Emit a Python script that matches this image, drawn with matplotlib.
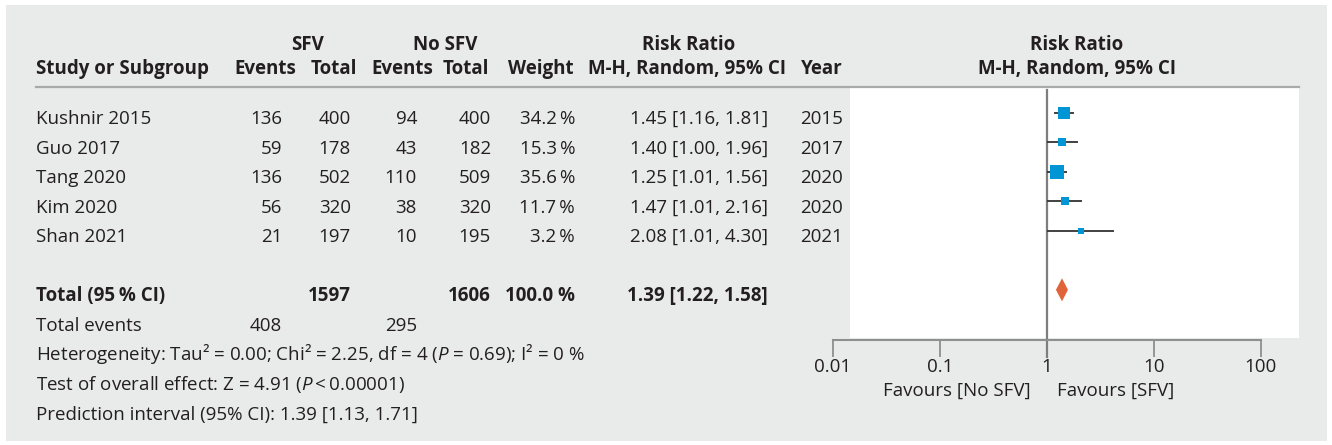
import matplotlib
matplotlib.use("Agg")
import matplotlib.pyplot as plt
from matplotlib.patches import Rectangle, Polygon
from matplotlib.lines import Line2D
import numpy as np

# ---------------- data ----------------
studies = ["Kushnir 2015", "Guo 2017", "Tang 2020", "Kim 2020", "Shan 2021"]
sfv_events = [136, 59, 136, 56, 21]
sfv_total = [400, 178, 502, 320, 197]
nosfv_events = [94, 43, 110, 38, 10]
nosfv_total = [400, 182, 509, 320, 195]
weights = [34.2, 15.3, 35.6, 11.7, 3.2]
rr = [1.45, 1.40, 1.25, 1.47, 2.08]
rr_lo = [1.16, 1.00, 1.01, 1.01, 1.01]
rr_hi = [1.81, 1.96, 1.56, 2.16, 4.30]
years = [2015, 2017, 2020, 2020, 2021]

total_sfv = 1597
total_nosfv = 1606
total_weight = "100.0 %"
pooled = 1.39
pooled_lo = 1.22
pooled_hi = 1.58
events_sfv = 408
events_nosfv = 295
x_ticks = [0.01, 0.1, 1, 10, 100]
x_ticklabels = ["0.01", "0.1", "1", "10", "100"]

# ---------------- style ----------------
W, H = 1332, 445
FONT = "Open Sans"
FS = 13.5
TXT = "#231f20"
BG = "#e9eaea"
plt.rcParams["font.family"] = [FONT, "DejaVu Sans"]
plt.rcParams["mathtext.fontset"] = "custom"
plt.rcParams["mathtext.rm"] = FONT
plt.rcParams["mathtext.it"] = FONT + ":italic"
plt.rcParams["mathtext.bf"] = FONT + ":bold"

fig = plt.figure(figsize=(W / 100, H / 100), dpi=100)
fig.patch.set_facecolor("white")


def fx(x):
    return x / W


def fy(y):
    return 1 - y / H


def put(x, y, s, ha="left", bold=False, fs=FS, color=TXT):
    fig.text(fx(x), fy(y), s, ha=ha, va="baseline", fontsize=fs,
             fontweight="bold" if bold else "normal", color=color, zorder=5)


# background panel
fig.patches.append(Rectangle((fx(6), fy(441)), fx(1327) - fx(6), fy(5) - fy(441),
                             transform=fig.transFigure, facecolor=BG, edgecolor="none", zorder=0))
# white plot area
fig.patches.append(Rectangle((fx(850), fy(337.5)), fx(1299) - fx(850), fy(88) - fy(337.5),
                             transform=fig.transFigure, facecolor="white", edgecolor="none", zorder=0.5))
# header rule
fig.add_artist(Line2D([fx(36), fx(1299)], [fy(87), fy(87)], transform=fig.transFigure,
                      color="#a9a9a9", lw=1.6, zorder=1))

# row geometry
ROW0 = 112.5
STEP = 29.55
BASE = 11.5


def row_y(i):
    return ROW0 + i * STEP


# header
put(308, 50, "SFV", ha="center", bold=True)
put(445, 50, "No SFV", ha="center", bold=True)
put(689, 50, "Risk Ratio", ha="center", bold=True)
put(1077, 50, "Risk Ratio", ha="center", bold=True)
put(36, 74, "Study or Subgroup", bold=True)
put(265, 74, "Events", ha="center", bold=True)
put(334, 74, "Total", ha="center", bold=True)
put(402, 74, "Events", ha="center", bold=True)
put(466, 74, "Total", ha="center", bold=True)
put(541, 74, "Weight", ha="center", bold=True)
put(687, 74, "M-H, Random, 95% CI", ha="center", bold=True)
put(822, 74, "Year", ha="center", bold=True)
put(1077, 74, "M-H, Random, 95% CI", ha="center", bold=True)

# study rows
for i, name in enumerate(studies):
    y = row_y(i) + BASE
    put(36, y, name)
    put(282, y, str(sfv_events[i]), ha="right")
    put(351, y, str(sfv_total[i]), ha="right")
    put(417, y, str(nosfv_events[i]), ha="right")
    put(491, y, str(nosfv_total[i]), ha="right")
    put(575, y, f"{weights[i]:.1f}\u2009%", ha="right")
    put(768, y, f"{rr[i]:.2f} [{rr_lo[i]:.2f}, {rr_hi[i]:.2f}]", ha="right")
    put(843, y, str(years[i]), ha="right")

# totals
yt = row_y(6) + BASE
put(36, yt, "Total (95\u2009% CI)", bold=True)
put(351, yt, str(total_sfv), ha="right", bold=True)
put(491, yt, str(total_nosfv), ha="right", bold=True)
put(575, yt, total_weight, ha="right", bold=True)
put(768, yt, f"{pooled:.2f} [{pooled_lo:.2f}, {pooled_hi:.2f}]", ha="right", bold=True)

ye = row_y(7) + BASE
put(36, ye, "Total events")
put(282, ye, str(events_sfv), ha="right")
put(417, ye, str(events_nosfv), ha="right")
put(36, row_y(8) + BASE,
    "Heterogeneity: Tau\u00b2 = 0.00; Chi\u00b2 = 2.25, df = 4 ($\\mathit{P}$ = 0.69); I\u00b2 = 0 %")
put(36, row_y(9) + BASE, "Test of overall effect: Z = 4.91 ($\\mathit{P}$\u2009<\u20090.00001)")
put(36, row_y(10) + BASE, "Prediction interval (95% CI): 1.39 [1.13, 1.71]")

# ---------------- forest axes ----------------
AX_L, AX_R = 832.7, 1260.7
AX_T, AX_B = 88.0, 340.0
ax = fig.add_axes([fx(AX_L), fy(AX_B), fx(AX_R) - fx(AX_L), fy(AX_T) - fy(AX_B)])
ax.set_zorder(3)
ax.set_facecolor("none")
ax.set_xscale("log")
ax.set_xlim(x_ticks[0], x_ticks[-1])
ax.set_ylim((AX_B - ROW0) / STEP, (AX_T - ROW0) / STEP)
for s in ["top", "left", "right"]:
    ax.spines[s].set_visible(False)
ax.spines["bottom"].set_color("#8f8f8f")
ax.spines["bottom"].set_linewidth(1.5)
ax.set_yticks([])
ax.set_xticks(x_ticks)
ax.set_xticklabels(x_ticklabels)
ax.minorticks_off()
ax.tick_params(axis="x", direction="out", length=12, width=1.3, color="#8f8f8f",
               labelsize=FS, labelcolor=TXT, pad=1)

# reference line at 1
ax.plot([1, 1], [(90 - ROW0) / STEP, (357 - ROW0) / STEP], color="#7d7d82", lw=1.6,
        clip_on=False, zorder=2)

# study CIs and squares
for i in range(len(studies)):
    ax.plot([rr_lo[i], rr_hi[i]], [i, i], color="#333333", lw=1.3, zorder=3,
            solid_capstyle="butt")
    side = max(2.2 * np.sqrt(weights[i]), 5.5) * 0.72
    ax.scatter([rr[i]], [i], marker="s", s=side ** 2, color="#0096d6", zorder=4,
               linewidths=0)

# pooled diamond
hh = 11.5 / STEP
ax.add_patch(Polygon([(pooled_lo, 6), (pooled, 6 - hh), (pooled_hi, 6), (pooled, 6 + hh)],
                     closed=True, facecolor="#e0633a", edgecolor="none", zorder=4))

# favours labels
put(1031, 396, "Favours [No SFV]", ha="right")
put(1057, 396, "Favours [SFV]", ha="left")

fig.savefig("out.png", dpi=100, facecolor=fig.get_facecolor())
